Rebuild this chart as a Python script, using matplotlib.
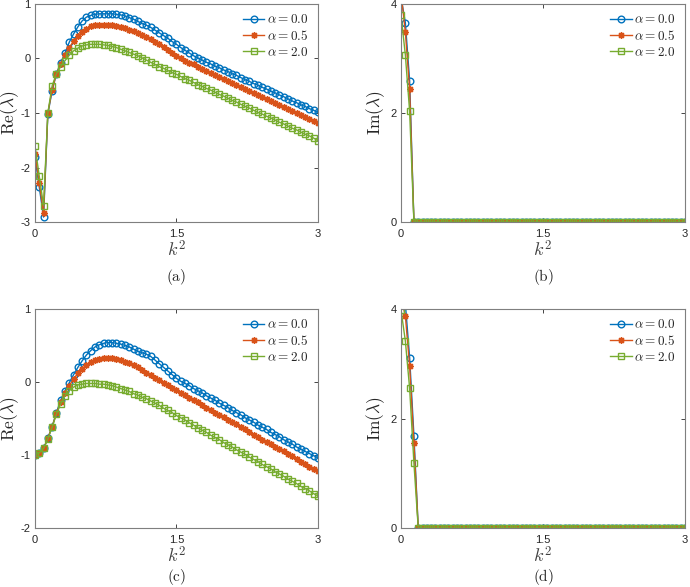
import numpy as np
import matplotlib
matplotlib.use("Agg")
import matplotlib.pyplot as plt

plt.rcParams['mathtext.fontset'] = 'cm'
plt.rcParams['axes.unicode_minus'] = False
plt.rcParams['font.family'] = ['Liberation Sans', 'DejaVu Sans']

# k^2 grid (67 samples on [0, 3])
k2 = np.linspace(0, 3, 67)

labels = [r'$\alpha = 0.0$', r'$\alpha = 0.5$', r'$\alpha = 2.0$']

# panel (a): Re(lambda)
re_a_00 = [-1.81, -2.36, -2.91, -1.02, -0.59, -0.28, -0.08, 0.10, 0.30, 0.45,
           0.58, 0.69, 0.76, 0.79, 0.81, 0.82, 0.82, 0.82, 0.82, 0.81,
           0.80, 0.78, 0.75, 0.72, 0.68, 0.64, 0.61, 0.57, 0.52, 0.47,
           0.42, 0.37, 0.31, 0.26, 0.20, 0.15, 0.10, 0.05, 0.01, -0.03,
           -0.07, -0.10, -0.14, -0.17, -0.21, -0.24, -0.28, -0.31, -0.35, -0.39,
           -0.42, -0.46, -0.49, -0.53, -0.56, -0.60, -0.63, -0.67, -0.70, -0.74,
           -0.78, -0.81, -0.85, -0.88, -0.92, -0.95, -0.99]
re_a_05 = [-1.75, -2.29, -2.83, -1.00, -0.57, -0.28, -0.10, 0.07, 0.20, 0.32,
           0.41, 0.49, 0.55, 0.59, 0.61, 0.62, 0.62, 0.62, 0.61, 0.60,
           0.58, 0.56, 0.53, 0.50, 0.46, 0.43, 0.39, 0.36, 0.31, 0.26,
           0.21, 0.15, 0.10, 0.05, 0.00, -0.04, -0.08, -0.11, -0.15, -0.19,
           -0.23, -0.26, -0.30, -0.34, -0.37, -0.41, -0.45, -0.49, -0.52, -0.56,
           -0.60, -0.63, -0.67, -0.71, -0.74, -0.78, -0.82, -0.86, -0.89, -0.93,
           -0.97, -1.00, -1.04, -1.08, -1.11, -1.15, -1.18]
re_a_20 = [-1.60, -2.16, -2.70, -1.00, -0.50, -0.28, -0.15, -0.04, 0.06, 0.14,
           0.19, 0.23, 0.25, 0.26, 0.26, 0.26, 0.25, 0.24, 0.22, 0.20,
           0.17, 0.14, 0.11, 0.08, 0.05, 0.01, -0.03, -0.07, -0.11, -0.15,
           -0.18, -0.22, -0.26, -0.29, -0.33, -0.37, -0.40, -0.44, -0.48, -0.51,
           -0.55, -0.58, -0.62, -0.66, -0.69, -0.73, -0.77, -0.80, -0.84, -0.88,
           -0.91, -0.95, -0.99, -1.02, -1.06, -1.09, -1.13, -1.17, -1.20, -1.24,
           -1.28, -1.31, -1.35, -1.39, -1.42, -1.46, -1.51]

# panel (b): Im(lambda)
im_b_00 = [4.12, 3.66, 2.59] + [0.0] * 64
im_b_05 = [4.20, 3.49, 2.44] + [0.0] * 64
im_b_20 = [3.79, 3.07, 2.03] + [0.0] * 64

# panel (c): Re(lambda)
re_c_00 = [-1.00, -0.97, -0.91, -0.77, -0.61, -0.42, -0.25, -0.12, -0.01, 0.10,
           0.20, 0.29, 0.37, 0.43, 0.48, 0.51, 0.53, 0.54, 0.54, 0.53,
           0.52, 0.50, 0.48, 0.45, 0.42, 0.40, 0.38, 0.35, 0.30, 0.25,
           0.20, 0.15, 0.10, 0.05, 0.01, -0.02, -0.05, -0.09, -0.12, -0.15,
           -0.19, -0.22, -0.25, -0.29, -0.32, -0.35, -0.39, -0.42, -0.45, -0.49,
           -0.52, -0.55, -0.59, -0.62, -0.65, -0.69, -0.72, -0.75, -0.79, -0.82,
           -0.85, -0.89, -0.92, -0.95, -0.98, -1.01, -1.04]
re_c_05 = [-1.00, -0.97, -0.91, -0.77, -0.61, -0.43, -0.27, -0.15, -0.05, 0.04,
           0.12, 0.18, 0.23, 0.27, 0.30, 0.32, 0.33, 0.33, 0.33, 0.32,
           0.30, 0.28, 0.26, 0.23, 0.20, 0.17, 0.13, 0.10, 0.06, 0.03,
           -0.01, -0.04, -0.08, -0.11, -0.15, -0.18, -0.22, -0.25, -0.28, -0.32,
           -0.35, -0.38, -0.42, -0.45, -0.48, -0.52, -0.55, -0.58, -0.62, -0.65,
           -0.69, -0.72, -0.75, -0.79, -0.82, -0.85, -0.89, -0.92, -0.95, -0.99,
           -1.02, -1.06, -1.09, -1.12, -1.16, -1.19, -1.22]
re_c_20 = [-1.00, -0.97, -0.91, -0.78, -0.62, -0.44, -0.30, -0.19, -0.12, -0.07,
           -0.04, -0.03, -0.02, -0.02, -0.02, -0.03, -0.03, -0.04, -0.05, -0.07,
           -0.09, -0.11, -0.13, -0.16, -0.18, -0.21, -0.23, -0.26, -0.29, -0.32,
           -0.36, -0.39, -0.42, -0.46, -0.49, -0.52, -0.56, -0.59, -0.63, -0.66,
           -0.69, -0.73, -0.76, -0.79, -0.83, -0.86, -0.89, -0.93, -0.96, -0.99,
           -1.03, -1.06, -1.09, -1.13, -1.16, -1.19, -1.23, -1.26, -1.29, -1.33,
           -1.36, -1.39, -1.43, -1.46, -1.49, -1.53, -1.56]

# panel (d): Im(lambda)
im_d_00 = [4.90, 4.10, 3.11, 1.68] + [0.0] * 63
im_d_05 = [4.20, 3.88, 2.96, 1.55] + [0.0] * 63
im_d_20 = [3.98, 3.42, 2.55, 1.18] + [0.0] * 63

colors = ['#0072BD', '#D95319', '#77AC30']
markers = ['o', (8, 2, 0), 's']
msizes = [4.8, 4.8, 3.8]

fig = plt.figure(figsize=(6.9, 5.87), dpi=100)
W, H = 690.0, 587.0

panels = [
    # rect, series, ylim, yticks, ylabel, caption, caption y (px)
    ([0.0507, 0.6218, 0.4101, 0.3714], [re_a_00, re_a_05, re_a_20], (-3, 1), [-3, -2, -1, 0, 1],
     r'$\mathrm{Re}(\lambda)$', '(a)', 277),
    ([0.5812, 0.6218, 0.4116, 0.3714], [im_b_00, im_b_05, im_b_20], (0, 4), [0, 2, 4],
     r'$\mathrm{Im}(\lambda)$', '(b)', 277),
    ([0.0507, 0.1005, 0.4101, 0.3731], [re_c_00, re_c_05, re_c_20], (-2, 1), [-2, -1, 0, 1],
     r'$\mathrm{Re}(\lambda)$', '(c)', 577),
    ([0.5812, 0.1005, 0.4116, 0.3731], [im_d_00, im_d_05, im_d_20], (0, 4), [0, 2, 4],
     r'$\mathrm{Im}(\lambda)$', '(d)', 577),
]

for rect, series, ylim, yticks, ylabel, cap, capy in panels:
    ax = fig.add_axes(rect)
    for y, c, m, ms, lab in zip(series, colors, markers, msizes, labels):
        ax.plot(k2, y, color=c, lw=1.0, marker=m, ms=ms, mfc='none',
                mec=c, mew=1.0, label=lab)
    ax.set_xlim(0, 3)
    ax.set_ylim(*ylim)
    ax.set_xticks([0, 1.5, 3])
    ax.set_xticklabels(['0', '1.5', '3'])
    ax.set_yticks(yticks)
    ax.tick_params(direction='in', top=True, right=True, length=3, width=0.6,
                   labelsize=8, colors='#262626')
    ax.tick_params(axis='x', pad=5)
    ax.tick_params(axis='y', pad=3)
    for sp in ax.spines.values():
        sp.set_color('#7f7f7f')
        sp.set_linewidth(0.8)
    axw = rect[2] * W
    axh = rect[3] * H
    ax.set_xlabel(r'$k^2$', fontsize=13, color='#404040', va='top')
    ax.xaxis.set_label_coords(0.5, -18.0 / axh)
    ax.set_ylabel(ylabel, fontsize=12.5, color='#262626', va='center')
    ax.yaxis.set_label_coords(-25.0 / axw, 0.5)
    leg = ax.legend(loc='upper right', frameon=False, fontsize=9.5,
                    handlelength=1.6, handletextpad=0.2, labelspacing=0.2,
                    borderaxespad=0.3)
    for t in leg.get_texts():
        t.set_color('#262626')
    cx = rect[0] + rect[2] / 2
    fig.text(cx, 1 - capy / H, r'$\mathrm{' + cap + '}$', ha='center', va='center',
             fontsize=11, color='#262626')

fig.savefig('out.png', dpi=100)
